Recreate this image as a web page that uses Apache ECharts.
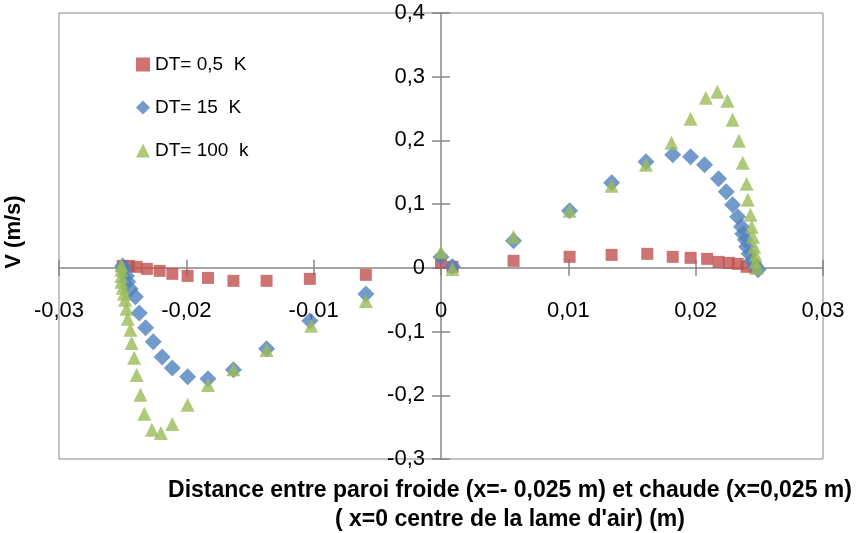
<!DOCTYPE html>
<html>
<head>
<meta charset="utf-8">
<script src="https://cdn.jsdelivr.net/npm/echarts@6/dist/echarts.min.js"></script>
<style>
  html, body { margin: 0; padding: 0; background: #fff; }
  #chart { width: 857px; height: 533px; }
</style>
</head>
<body>
<div id="chart"></div>
<script>
// données : [x (m), V (m/s)]
const seriesNames = ['DT= 0,5  K', 'DT= 15  K', 'DT= 100  k'];

const dt05 = [
  [-0.0250, 0.003], [-0.0245, 0.003], [-0.0239, 0.0016], [-0.0231, -0.0016],
  [-0.0221, -0.0047], [-0.0211, -0.0094], [-0.0199, -0.0126], [-0.0183, -0.0157],
  [-0.0163, -0.0204], [-0.0137, -0.0204], [-0.0103, -0.0173], [-0.0059, -0.011],
  [0.0, 0.0078], [0.0009, 0.0016], [0.0057, 0.011], [0.0101, 0.0173],
  [0.0134, 0.0204], [0.0162, 0.022], [0.0182, 0.0173], [0.0196, 0.0157],
  [0.0209, 0.0141], [0.0218, 0.0094], [0.0226, 0.0078], [0.0233, 0.0063],
  [0.0240, 0.0016], [0.0247, 0.0]
];

const dt15 = [
  [-0.0250, 0.003], [-0.0249, -0.003], [-0.0247, -0.0126], [-0.0246, -0.022],
  [-0.0244, -0.033], [-0.0240, -0.0455], [-0.0237, -0.0707], [-0.0232, -0.094],
  [-0.0226, -0.116], [-0.0219, -0.140], [-0.0211, -0.157], [-0.0199, -0.171],
  [-0.0183, -0.174], [-0.0163, -0.160], [-0.0137, -0.127], [-0.0103, -0.083],
  [-0.0059, -0.041], [0.0, 0.017], [0.0009, 0.002], [0.0057, 0.0424],
  [0.0101, 0.0895], [0.0134, 0.1334], [0.0161, 0.1664], [0.0182, 0.1774],
  [0.0196, 0.1743], [0.0207, 0.1617], [0.0218, 0.1397], [0.0224, 0.1193],
  [0.0229, 0.0989], [0.0233, 0.0801], [0.0236, 0.0644], [0.0237, 0.0534],
  [0.0239, 0.044], [0.0240, 0.033], [0.0242, 0.022], [0.0244, 0.011],
  [0.0247, 0.0031], [0.0249, -0.003]
];

const dt100 = [
  [-0.0251, 0.004], [-0.0251, -0.003], [-0.0251, -0.0126], [-0.0251, -0.022],
  [-0.0250, -0.0314], [-0.0249, -0.0408], [-0.0248, -0.050], [-0.0247, -0.064],
  [-0.0246, -0.080], [-0.0244, -0.097], [-0.0243, -0.118], [-0.0241, -0.141],
  [-0.0239, -0.168], [-0.0236, -0.199], [-0.0233, -0.229], [-0.0227, -0.254],
  [-0.0220, -0.259], [-0.0211, -0.245], [-0.0199, -0.215], [-0.0183, -0.184],
  [-0.0163, -0.159], [-0.0137, -0.129], [-0.0102, -0.091], [-0.0059, -0.052],
  [0.0, 0.025], [0.0009, -0.0016], [0.0057, 0.0487], [0.0101, 0.0895],
  [0.0134, 0.1287], [0.0161, 0.1617], [0.0181, 0.1963], [0.0196, 0.2339],
  [0.0208, 0.2669], [0.0217, 0.2763], [0.0225, 0.2622], [0.0229, 0.2323],
  [0.0234, 0.1994], [0.0237, 0.1648], [0.0240, 0.1319], [0.0241, 0.1068],
  [0.0243, 0.0832], [0.0244, 0.0644], [0.0245, 0.0487], [0.0246, 0.033],
  [0.0247, 0.0204], [0.0247, 0.0094], [0.0248, 0.0]
];

const xTicks = { min: -0.03, max: 0.03, interval: 0.01 };
const yTicks = { min: -0.3, max: 0.4, interval: 0.1 };

const axisColor = '#868686';
const fontFam = '"Liberation Sans", Arial, sans-serif';
const gridBox = { left: 59, top: 13, right: 34, bottom: 74 };

function comma(v, d) {
  const s = String(+v.toFixed(d));
  return s.replace('.', ',');
}

const chart = echarts.init(document.getElementById('chart'), null, { renderer: 'canvas' });

// axe principal + axe "fantôme" pour les graduations croisées
function xAxisDef(inside) {
  return {
    type: 'value', position: 'bottom',
    min: xTicks.min, max: xTicks.max, interval: xTicks.interval,
    axisLine: { show: !inside, onZero: false, lineStyle: { color: axisColor, width: 1.5 } },
    axisTick: { show: true, inside: inside, length: 8, lineStyle: { color: axisColor, width: 1.5 } },
    axisLabel: {
      show: !inside, margin: 32, fontFamily: fontFam, fontSize: 22, color: '#000',
      formatter: v => comma(v, 2)
    },
    splitLine: { show: false }
  };
}
function yAxisDef(inside) {
  return {
    type: 'value', position: 'left',
    min: yTicks.min, max: yTicks.max, interval: yTicks.interval,
    axisLine: { show: !inside, onZero: false, lineStyle: { color: axisColor, width: 1.5 } },
    axisTick: { show: true, inside: inside, length: 9, lineStyle: { color: axisColor, width: 1.5 } },
    axisLabel: {
      show: !inside, margin: 16, fontFamily: fontFam, fontSize: 22, color: '#000',
      formatter: v => comma(v, 1)
    },
    splitLine: { show: false }
  };
}

const option = {
  animation: false,
  color: ['#C0504D', '#4F81BD', '#9BBB59'],
  grid: Object.assign({
    show: true, borderColor: axisColor, borderWidth: 1, backgroundColor: 'transparent'
  }, gridBox),
  legend: {
    orient: 'vertical',
    left: 131, top: 50,
    itemGap: 24,
    itemWidth: 14, itemHeight: 14,
    textStyle: { fontFamily: fontFam, fontSize: 19, color: '#000' },
    data: [
      { name: seriesNames[0], icon: 'rect' },
      { name: seriesNames[1], icon: 'diamond' },
      { name: seriesNames[2], icon: 'triangle' }
    ]
  },
  title: [
    {
      text: 'Distance entre paroi froide (x=- 0,025 m) et chaude (x=0,025 m)',
      left: 505, top: 474, textAlign: 'center',
      textStyle: { fontFamily: fontFam, fontSize: 23, fontWeight: 'bold', color: '#000' }
    },
    {
      text: "( x=0 centre de la lame d'air) (m)",
      left: 505, top: 503, textAlign: 'center',
      textStyle: { fontFamily: fontFam, fontSize: 23, fontWeight: 'bold', color: '#000' }
    }
  ],
  graphic: [
    {
      type: 'text',
      x: 3, y: 232, rotation: Math.PI / 2,
      style: {
        text: 'V (m/s)', fontFamily: fontFam, fontSize: 22, fontWeight: 'bold',
        fill: '#000', align: 'center', verticalAlign: 'top'
      }
    }
  ],
  xAxis: [xAxisDef(false), xAxisDef(true)],
  yAxis: [yAxisDef(false), yAxisDef(true)],
  series: [
    {
      name: seriesNames[0], type: 'scatter', symbol: 'rect', symbolSize: 12,
      data: dt05, z: 3
    },
    {
      name: seriesNames[1], type: 'scatter', symbol: 'diamond', symbolSize: 17,
      data: dt15, z: 4
    },
    {
      name: seriesNames[2], type: 'scatter', symbol: 'triangle', symbolSize: 14,
      data: dt100, z: 5
    }
  ]
};

chart.setOption(option);

// déplacer les axes (ligne, graduations, étiquettes) sur x=0 / y=0
const origin = chart.convertToPixel({ gridIndex: 0 }, [0, 0]);
const bottomPx = chart.getHeight() - gridBox.bottom;
const xOff = -(bottomPx - origin[1]);
const yOff = -(origin[0] - gridBox.left);
chart.setOption({
  xAxis: [{ offset: xOff }, { offset: xOff }],
  yAxis: [{ offset: yOff }, { offset: yOff }]
});
</script>
</body>
</html>
